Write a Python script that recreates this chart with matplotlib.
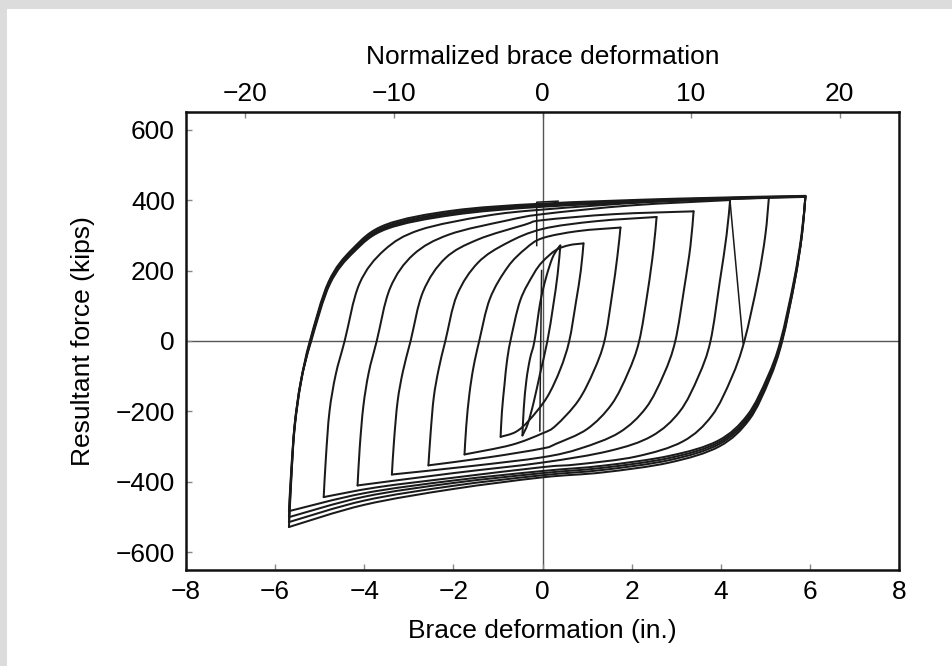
import numpy as np
import matplotlib
matplotlib.use("Agg")
import matplotlib.pyplot as plt
from matplotlib.path import Path
from matplotlib.patches import PathPatch, Rectangle

plt.rcParams['font.family'] = ['Liberation Sans', 'DejaVu Sans']

# ---------------- data (brace deformation in., resultant force kips) ----------------
NORM_FACTOR = 3.0  # normalized deformation per inch

x_ticks = [-8, -6, -4, -2, 0, 2, 4, 6, 8]
y_ticks = [600, 400, 200, 0, -200, -400, -600]
top_ticks = [-20, -10, 0, 10, 20]

# ascending (tension-going) branches
asc_max_1 = [(-5.69, -528), (-5.64, -400), (-5.57, -251), (-5.43, -120), (-5.22, 0), (-4.80, 168),
             (-4.26, 262), (-3.52, 330), (-2.02, 370), (0.0, 390), (3.0, 404), (5.9, 412)]
asc_max_2 = [(-5.69, -514), (-5.64, -390), (-5.56, -245), (-5.42, -118), (-5.21, 0), (-4.79, 166),
             (-4.25, 259), (-3.50, 326), (-2.00, 366), (0.0, 387), (3.0, 402), (5.9, 411)]
asc_max_3 = [(-5.69, -500), (-5.64, -380), (-5.56, -240), (-5.42, -115), (-5.20, 0), (-4.78, 164),
             (-4.24, 256), (-3.50, 322), (-2.00, 362), (0.0, 384), (3.0, 400), (5.9, 410)]
asc_max_4 = [(-5.69, -483), (-5.64, -370), (-5.56, -235), (-5.42, -112), (-5.19, 0), (-4.77, 162),
             (-4.23, 253), (-3.50, 318), (-2.00, 358), (0.0, 381), (3.0, 398), (5.9, 409)]
asc_2 = [(-4.91, -443), (-4.86, -330), (-4.78, -200), (-4.64, -95), (-4.44, 0), (-4.11, 162),
         (-3.55, 258), (-2.76, 315), (-1.28, 355), (0.0, 373), (2.5, 395), (5.08, 407)]
asc_3 = [(-4.15, -410), (-4.10, -300), (-4.02, -185), (-3.90, -90), (-3.72, 0), (-3.42, 150),
         (-2.90, 245), (-2.10, 302), (-0.80, 342), (0.0, 360), (2.0, 385), (4.21, 400)]
asc_4 = [(-3.38, -379), (-3.33, -280), (-3.25, -170), (-3.13, -85), (-2.96, 0), (-2.68, 140),
         (-2.18, 235), (-1.45, 288), (-0.40, 330), (0.0, 343), (1.6, 360), (3.39, 368)]
asc_5 = [(-2.56, -353), (-2.51, -260), (-2.44, -160), (-2.33, -80), (-2.18, 0), (-1.92, 130),
         (-1.45, 222), (-0.80, 278), (0.0, 318), (1.2, 340), (2.56, 352)]
asc_6 = [(-1.75, -322), (-1.71, -240), (-1.64, -150), (-1.55, -75), (-1.42, 0), (-1.18, 120),
         (-0.78, 210), (-0.38, 262), (0.0, 292), (0.8, 312), (1.75, 322)]
asc_7 = [(-0.94, -272), (-0.91, -200), (-0.85, -120), (-0.80, -60), (-0.72, 0), (-0.50, 115),
         (-0.20, 190), (0.0, 225), (0.30, 258), (0.60, 272), (0.92, 277)]
asc_8 = [(-0.45, -268), (-0.42, -190), (-0.36, -110), (-0.28, -50), (-0.18, 0), (-0.05, 110),
         (0.08, 180), (0.22, 235), (0.34, 262), (0.40, 271)]

# descending (compression-going) branches
desc_max_1 = [(5.9, 412), (5.82, 300), (5.66, 170), (5.38, 0), (5.09, -110), (4.64, -223), (3.97, -299),
              (2.85, -345), (1.35, -373), (0.0, -387), (-2.0, -420), (-4.0, -465), (-5.69, -528)]
desc_max_2 = [(5.9, 411), (5.82, 300), (5.66, 170), (5.37, 0), (5.08, -107), (4.63, -218), (3.96, -293),
              (2.85, -338), (1.35, -366), (0.0, -381), (-2.0, -411), (-4.0, -453), (-5.69, -514)]
desc_max_3 = [(5.9, 410), (5.82, 300), (5.65, 170), (5.36, 0), (5.07, -105), (4.62, -214), (3.95, -288),
              (2.85, -332), (1.35, -360), (0.0, -375), (-2.0, -403), (-4.0, -442), (-5.69, -500)]
desc_max_4 = [(5.9, 409), (5.81, 300), (5.64, 170), (5.34, 0), (5.05, -102), (4.60, -210), (3.94, -283),
              (2.85, -326), (1.35, -354), (0.0, -369), (-2.0, -396), (-4.0, -432), (-5.69, -483)]
desc_2 = [(5.08, 407), (5.00, 300), (4.83, 170), (4.53, 0), (4.24, -105), (3.80, -212), (3.15, -285),
          (2.10, -328), (0.80, -350), (0.0, -358), (-2.0, -388), (-3.7, -415), (-4.91, -443)]
desc_3 = [(4.21, 400), (4.13, 300), (3.98, 170), (3.77, 0), (3.50, -100), (3.08, -200), (2.45, -270),
          (1.50, -312), (0.0, -345), (-2.0, -375), (-4.15, -410)]
desc_4 = [(3.39, 368), (3.32, 270), (3.18, 150), (2.98, 0), (2.72, -95), (2.32, -190), (1.72, -260),
          (0.85, -305), (0.0, -330), (-1.6, -355), (-3.38, -379)]
desc_5 = [(2.56, 352), (2.49, 260), (2.36, 140), (2.17, 0), (1.92, -90), (1.55, -180), (1.00, -250),
          (0.30, -292), (0.0, -305), (-1.2, -330), (-2.56, -353)]
desc_6 = [(1.75, 322), (1.68, 240), (1.56, 130), (1.39, 0), (1.15, -85), (0.80, -170), (0.30, -240),
          (0.0, -262), (-0.7, -295), (-1.75, -322)]
desc_7 = [(0.92, 277), (0.86, 200), (0.75, 110), (0.60, 0), (0.40, -80), (0.10, -160), (-0.30, -225),
          (-0.60, -258), (-0.94, -272)]
desc_8 = [(0.40, 271), (0.34, 190), (0.24, 100), (0.11, 0), (-0.05, -90), (-0.20, -175), (-0.33, -235),
          (-0.45, -268)]

# other recorded segments
unload_drop = [(4.21, 395), (4.50, -5)]
initial_elastic = [(-0.06, -255), (-0.04, 0), (-0.02, 200)]
initial_box = [(-0.13, 271), (-0.13, 394), (0.35, 397)]

smooth_branches = [asc_max_1, asc_max_2, asc_max_3, asc_max_4, asc_2, asc_3, asc_4, asc_5, asc_6,
                   asc_7, asc_8, desc_max_1, desc_max_2, desc_max_3, desc_max_4, desc_2, desc_3,
                   desc_4, desc_5, desc_6, desc_7, desc_8]
straight_branches = [unload_drop, initial_elastic, initial_box]


def smooth_path(pts):
    """Catmull-Rom through the read points, drawn as cubic Bezier path segments."""
    P = np.asarray(pts, float)
    n = len(P)
    verts = [P[0]]
    codes = [Path.MOVETO]
    for i in range(n - 1):
        p0 = P[i - 1] if i > 0 else P[i]
        p1 = P[i]
        p2 = P[i + 1]
        p3 = P[i + 2] if i + 2 < n else P[i + 1]
        c1 = p1 + (p2 - p0) / 6.0
        c2 = p2 - (p3 - p1) / 6.0
        verts += [c1, c2, p2]
        codes += [Path.CURVE4] * 3
    return Path(verts, codes)


def minus(v):
    return f"{v}".replace('-', '\u2212')


# ---------------- figure ----------------
fig = plt.figure(figsize=(9.52, 6.66), dpi=100, facecolor='#dcdcdc')
bg = Rectangle((7 / 952, 0), 1 - 7 / 952, 1 - 9 / 666, transform=fig.transFigure,
               facecolor='white', edgecolor='none', zorder=-10)
fig.add_artist(bg)
ax = fig.add_axes([186 / 952, 1 - 570 / 666, (899 - 186) / 952, (570 - 112) / 666])
ax.set_zorder(1)
ax.set_facecolor('white')

ax.set_xlim(-8, 8)
ax.set_ylim(-650, 650)

ax.axhline(0, color='#555555', lw=1.0, zorder=1)
ax.axvline(0, color='#555555', lw=1.0, zorder=1)

for br in smooth_branches:
    ax.add_patch(PathPatch(smooth_path(br), fill=False, lw=1.45, edgecolor='#1a1a1a',
                           capstyle='round', joinstyle='round', zorder=2))
for br in straight_branches:
    xs, ys = zip(*br)
    ax.plot(xs, ys, color='#1a1a1a', lw=1.1, zorder=2)

ax.set_xticks(x_ticks)
ax.set_xticklabels([minus(t) for t in x_ticks])
ax.set_yticks(y_ticks)
ax.set_yticklabels([minus(t) for t in y_ticks])
ax.tick_params(axis='both', direction='in', length=4, width=1.0, color='#888888',
               labelsize=19, pad=8)
ax.tick_params(axis='x', pad=7)

for s in ax.spines.values():
    s.set_linewidth(1.8)
    s.set_color('#111111')

ax.set_xlabel('Brace deformation (in.)', fontsize=19, labelpad=11)
ax.set_ylabel('Resultant force (kips)', fontsize=19, labelpad=15)

sec = ax.secondary_xaxis('top', functions=(lambda x: x * NORM_FACTOR, lambda n: n / NORM_FACTOR))
sec.set_xticks(top_ticks)
sec.set_xticklabels([minus(t) for t in top_ticks])
sec.tick_params(axis='x', direction='in', length=4, width=1.0, color='#888888',
                labelsize=19, pad=4)
sec.set_xlabel('Normalized brace deformation', fontsize=19, labelpad=13)

fig.savefig('out.png', dpi=100, facecolor=fig.get_facecolor())
